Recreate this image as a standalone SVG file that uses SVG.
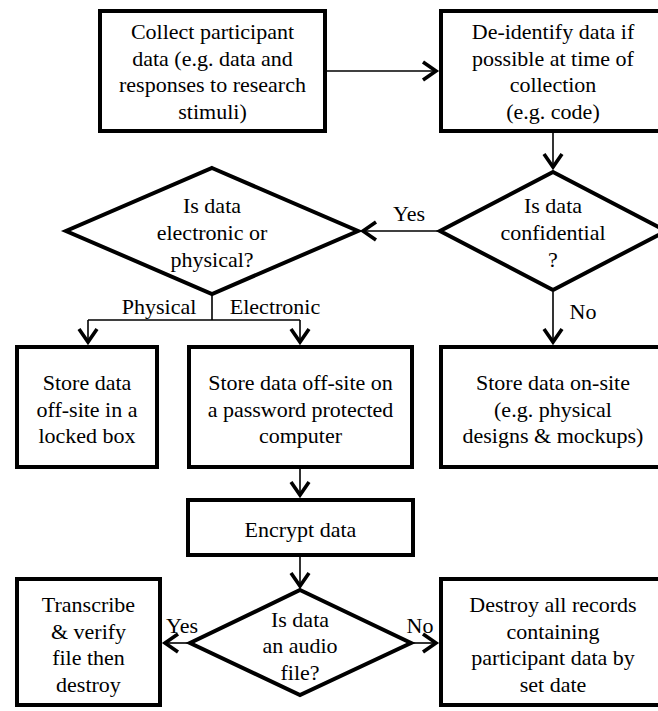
<svg xmlns="http://www.w3.org/2000/svg" width="658" height="711" viewBox="0 0 658 711">
<style>
  .node { fill: #ffffff; stroke: #000000; stroke-width: 4; stroke-linejoin: miter; }
  .conn { fill: none; stroke: #000000; stroke-width: 1.6; }
</style>
<defs>
  <marker id="arrow" markerUnits="userSpaceOnUse" markerWidth="30" markerHeight="30" viewBox="-20 -15 30 30" refX="0" refY="0" orient="auto">
    <path d="M -13 -9 L 0 0 L -13 9" fill="none" stroke="#000000" stroke-width="3.6" stroke-linejoin="miter"/>
  </marker>
</defs>
<rect x="0" y="0" width="658" height="711" fill="#ffffff"/>

<g font-family="Liberation Serif, Times New Roman, Times, DejaVu Serif, Noto Serif, serif" font-size="22" fill="#000000" text-anchor="middle">

<g id="connectors">
  <line class="conn" x1="327" y1="71" x2="436" y2="71" marker-end="url(#arrow)"/>
  <line class="conn" x1="553" y1="133" x2="553" y2="167" marker-end="url(#arrow)"/>
  <line class="conn" x1="438" y1="231" x2="363" y2="231" marker-end="url(#arrow)"/>
  <path class="conn" d="M 212 295 V 320 M 88 320 H 300"/>
  <line class="conn" x1="88" y1="320" x2="88" y2="342" marker-end="url(#arrow)"/>
  <line class="conn" x1="300" y1="320" x2="300" y2="342" marker-end="url(#arrow)"/>
  <line class="conn" x1="553" y1="292" x2="553" y2="342" marker-end="url(#arrow)"/>
  <line class="conn" x1="300" y1="469" x2="300" y2="495" marker-end="url(#arrow)"/>
  <line class="conn" x1="300" y1="557" x2="300" y2="586" marker-end="url(#arrow)"/>
  <line class="conn" x1="188" y1="643" x2="165" y2="643" marker-end="url(#arrow)"/>
  <line class="conn" x1="413" y1="643" x2="436" y2="643" marker-end="url(#arrow)"/>
  <text x="409" y="221">Yes</text>
  <text x="159" y="314">Physical</text>
  <text x="275" y="314">Electronic</text>
  <text x="583" y="319">No</text>
  <text x="182" y="633">Yes</text>
  <text x="420" y="633">No</text>
</g>

<g id="collect">
  <rect class="node" x="100" y="11" width="225" height="120"/>
  <text x="212.5" y="39">Collect participant</text>
  <text x="212.5" y="65.5">data (e.g. data and</text>
  <text x="212.5" y="92">responses to research</text>
  <text x="212.5" y="118.5">stimuli)</text>
</g>

<g id="deidentify">
  <rect class="node" x="441" y="11" width="224" height="120"/>
  <text x="553" y="39">De-identify data if</text>
  <text x="553" y="65.5">possible at time of</text>
  <text x="553" y="92">collection</text>
  <text x="553" y="118.5">(e.g. code)</text>
</g>

<g id="electronic-or-physical">
  <polygon class="node" points="212,168 358,231 212,294 66,231"/>
  <text x="212" y="213">Is data</text>
  <text x="212" y="240">electronic or</text>
  <text x="212" y="267">physical?</text>
</g>

<g id="confidential">
  <polygon class="node" points="553,172 666,231 553,290 440,231"/>
  <text x="553" y="213">Is data</text>
  <text x="553" y="240">confidential</text>
  <text x="553" y="267">?</text>
</g>

<g id="locked-box">
  <rect class="node" x="17" y="347" width="140" height="120"/>
  <text x="87" y="390">Store data</text>
  <text x="87" y="417">off-site in a</text>
  <text x="87" y="443">locked box</text>
</g>

<g id="password-computer">
  <rect class="node" x="189" y="347" width="223" height="120"/>
  <text x="300.5" y="390">Store data off-site on</text>
  <text x="300.5" y="417">a password protected</text>
  <text x="300.5" y="443">computer</text>
</g>

<g id="on-site">
  <rect class="node" x="441" y="347" width="224" height="120"/>
  <text x="553" y="390">Store data on-site</text>
  <text x="553" y="417">(e.g. physical</text>
  <text x="553" y="443">designs &amp; mockups)</text>
</g>

<g id="encrypt">
  <rect class="node" x="188" y="500" width="225" height="55"/>
  <text x="300.5" y="537">Encrypt data</text>
</g>

<g id="audio-file">
  <polygon class="node" points="300,590 411,643 300,695 190,643"/>
  <text x="300" y="627">Is data</text>
  <text x="300" y="653">an audio</text>
  <text x="300" y="680">file?</text>
</g>

<g id="transcribe">
  <rect class="node" x="17" y="579" width="143" height="126"/>
  <text x="88.5" y="612">Transcribe</text>
  <text x="88.5" y="639">&amp; verify</text>
  <text x="88.5" y="665">file then</text>
  <text x="88.5" y="692">destroy</text>
</g>

<g id="destroy">
  <rect class="node" x="441" y="579" width="224" height="126"/>
  <text x="553" y="612">Destroy all records</text>
  <text x="553" y="639">containing</text>
  <text x="553" y="665">participant data by</text>
  <text x="553" y="692">set date</text>
</g>

</g>
</svg>
